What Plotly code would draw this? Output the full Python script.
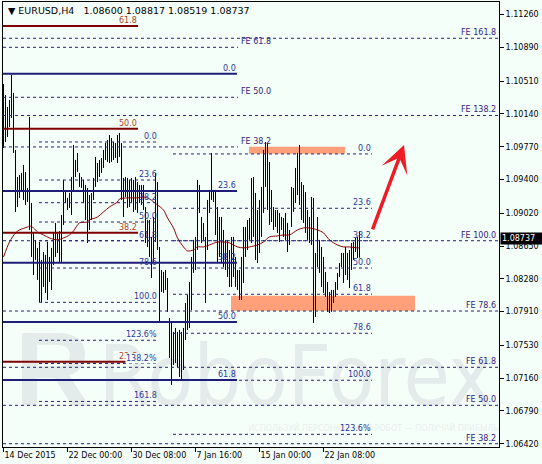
import plotly.graph_objects as go

# ---------------- data ----------------
highs = [
    1.10479, 1.10354, 1.10219, 1.10298, 1.10580, 1.10377, 1.09734, 1.09429, 1.09452, 1.09475,
    1.09565, 1.09486, 1.09305, 1.10106, 1.09136, 1.08798, 1.08719, 1.08629, 1.08696, 1.08493,
    1.08583, 1.08550, 1.08696, 1.08527, 1.08629, 1.08798, 1.08911, 1.08809, 1.08820, 1.09001,
    1.09396, 1.09283, 1.09193, 1.09249, 1.09429, 1.09790, 1.09621, 1.09700, 1.09475, 1.09429,
    1.09396, 1.09339, 1.09305, 1.09226, 1.09249, 1.09418, 1.09655, 1.09587, 1.09621, 1.09644,
    1.09734, 1.09813, 1.09847, 1.09903, 1.09869, 1.09824, 1.09813, 1.09903, 1.09926, 1.09813,
    1.09418, 1.09429, 1.09418, 1.09396, 1.09418, 1.09396, 1.09429, 1.09373, 1.09339, 1.09339,
    1.09339, 1.09091, 1.08944, 1.08944, 1.08753, 1.08978, 1.09475, 1.09373, 1.08640, 1.08380,
    1.08358, 1.08380, 1.08290, 1.07839, 1.07783, 1.07681, 1.07726, 1.07681, 1.07704, 1.07681,
    1.07726, 1.08008, 1.08098, 1.08245, 1.08527, 1.08719, 1.08753, 1.09396, 1.09339, 1.08978,
    1.08911, 1.08753, 1.09170, 1.09283, 1.09700, 1.09283, 1.09283, 1.09091, 1.08978, 1.08978,
    1.08832, 1.08719, 1.08719, 1.08606, 1.08753, 1.08753, 1.08527, 1.08380, 1.08380, 1.08527,
    1.08865, 1.08865, 1.08944, 1.08967, 1.09418, 1.09429, 1.09249, 1.09057, 1.09170, 1.09317,
    1.09734, 1.09824, 1.09813, 1.09599, 1.09283, 1.09091, 1.09057, 1.09057, 1.09023, 1.08978,
    1.08967, 1.09023, 1.08911, 1.08832, 1.09317, 1.09305, 1.09531, 1.09700, 1.09790, 1.09373,
    1.09339, 1.09260, 1.09057, 1.08978, 1.09204, 1.09193, 1.08572, 1.08978, 1.08719, 1.08640,
    1.08527, 1.08358, 1.08245, 1.08132, 1.08155, 1.08155, 1.08245, 1.08347, 1.08459, 1.08572,
    1.08572, 1.08640, 1.08572, 1.08606, 1.08685, 1.08696, 1.08741, 1.08753, 1.08817,
]
lows = [
    1.09757, 1.09824, 1.09881, 1.09993, 1.10095, 1.09700, 1.09035, 1.09091, 1.09193, 1.09260,
    1.09170, 1.09114, 1.09147, 1.08832, 1.08527, 1.08324, 1.08493, 1.08268, 1.08019, 1.08019,
    1.08189, 1.08121, 1.08042, 1.08245, 1.08155, 1.08437, 1.08527, 1.08572, 1.08471, 1.08471,
    1.08888, 1.09136, 1.09057, 1.09080, 1.09001, 1.09283, 1.09429, 1.09486, 1.09317, 1.09305,
    1.09136, 1.08944, 1.08685, 1.08832, 1.08944, 1.09170, 1.09317, 1.09373, 1.09429, 1.09475,
    1.09531, 1.09621, 1.09599, 1.09587, 1.09599, 1.09621, 1.09644, 1.09587, 1.09655, 1.09170,
    1.08978, 1.09204, 1.09080, 1.09091, 1.09147, 1.09035, 1.09057, 1.09023, 1.09136, 1.09114,
    1.09057, 1.08685, 1.08640, 1.08527, 1.08290, 1.08459, 1.08696, 1.08606, 1.07794, 1.08132,
    1.08121, 1.08155, 1.07907, 1.07388, 1.07083, 1.07309, 1.07331, 1.07286, 1.07173, 1.07140,
    1.07252, 1.07591, 1.07704, 1.07726, 1.07929, 1.08347, 1.08380, 1.08606, 1.09023, 1.08685,
    1.08719, 1.08008, 1.08606, 1.09023, 1.09170, 1.09147, 1.08775, 1.08459, 1.08527, 1.08459,
    1.08414, 1.08380, 1.08301, 1.08189, 1.08189, 1.08301, 1.08189, 1.08155, 1.08042, 1.08042,
    1.08234, 1.08527, 1.08606, 1.08719, 1.08685, 1.08753, 1.08493, 1.08459, 1.08572, 1.08753,
    1.09023, 1.09317, 1.09057, 1.08888, 1.08921, 1.08832, 1.08865, 1.08798, 1.08696, 1.08832,
    1.08753, 1.08719, 1.08583, 1.08662, 1.08865, 1.09035, 1.09136, 1.09226, 1.09114, 1.08944,
    1.08911, 1.08798, 1.08719, 1.08685, 1.08662, 1.07783, 1.07850, 1.08414, 1.08347, 1.08189,
    1.08121, 1.08076, 1.07907, 1.07895, 1.07907, 1.08008, 1.08076, 1.08155, 1.08301, 1.08414,
    1.08234, 1.08324, 1.08268, 1.08177, 1.08380, 1.08493, 1.08583, 1.08516, 1.08519,
]

ma_idx = [0, 3, 6, 8, 12, 13, 15, 17, 20, 23, 27, 30, 33, 35, 38, 42, 43, 47, 50, 53,
          57, 58, 62, 67, 70, 73, 77, 80, 82, 85, 87, 90, 92, 95, 97, 100, 103, 107, 110, 113,
          117, 120, 123, 127, 130, 133, 137, 140, 143, 147, 150, 153, 157, 160, 163, 167, 170, 173, 177, 178]
ma_val = [1.08527, 1.08696, 1.08798, 1.08832, 1.08865, 1.08876, 1.08854, 1.08809, 1.08775, 1.08741,
          1.08719, 1.08741, 1.08775, 1.08820, 1.08911, 1.08921, 1.08944, 1.08978, 1.09035, 1.09091,
          1.09147, 1.09181, 1.09193, 1.09193, 1.09204, 1.09181, 1.09114, 1.09057, 1.08967, 1.08854,
          1.08741, 1.08640, 1.08595, 1.08606, 1.08640, 1.08640, 1.08662, 1.08696, 1.08696, 1.08685,
          1.08640, 1.08629, 1.08640, 1.08662, 1.08696, 1.08753, 1.08764, 1.08775, 1.08775, 1.08832,
          1.08854, 1.08854, 1.08832, 1.08798, 1.08719, 1.08662, 1.08640, 1.08640, 1.08629, 1.08629]

date_idx = [0, 32, 64, 96, 128, 160]
date_text = ["14 Dec 2015", "22 Dec 00:00", "30 Dec 08:00", "7 Jan 16:00", "15 Jan 00:00", "22 Jan 08:00"]
price_ticks = [1.11260, 1.10890, 1.10510, 1.10140, 1.09770, 1.09400, 1.09020,
               1.08650, 1.08280, 1.07910, 1.07530, 1.07160, 1.06790, 1.06420]

# Fibonacci expansion (right, to chart edge)
fe_r_labels = ["FE 161.8", "FE 138.2", "FE 100.0", "FE 78.6", "FE 61.8", "FE 50.0", "FE 38.2"]
fe_r_prices = [1.10994, 1.10123, 1.08710, 1.07917, 1.07282, 1.06853, 1.06420]
fe_r_span = [-0.25, 247.75]
# Fibonacci expansion (left)
fe_l_labels = ["FE 61.8", "FE 50.0", "FE 38.2"]
fe_l_prices = [1.10892, 1.10328, 1.09768]
fe_l_span = [-0.25, 117.25]
# solid navy retracement
fs_labels = ["0.0", "23.6", "38.2", "50.0", "61.8"]
fs_prices = [1.10595, 1.09271, 1.08462, 1.07793, 1.07139]
fs_span = [-0.25, 116.75]
# solid dark red retracement
fr_labels = ["61.8", "50.0", "38.2", "23.6"]
fr_prices = [1.11133, 1.09974, 1.08801, 1.07345]
fr_span = [-0.25, 67.25]
# dashed retracement (middle)
fm_labels = ["0.0", "23.6", "38.2", "50.0", "61.8", "78.6", "100.0", "123.6%", "138.2%", "161.8"]
fm_prices = [1.09824, 1.09395, 1.09139, 1.08921, 1.08710, 1.08402, 1.08015, 1.07587, 1.07325, 1.06897]
fm_span = [17.75, 77.25]
# dashed retracement (right)
fd_labels = ["0.0", "23.6", "38.2", "50.0", "61.8", "78.6", "100.0", "123.6%"]
fd_prices = [1.09689, 1.09076, 1.08710, 1.08402, 1.08106, 1.07666, 1.07136, 1.06526]
fd_span = [84.75, 184.25]

# target zones
zone_x0 = [122.75, 113.75]
zone_x1 = [170.75, 205.75]
zone_y0 = [1.09690, 1.07921]
zone_y1 = [1.09770, 1.08090]

# forecast arrow (tail -> head)
arrow_tail = (184.25, 1.08820)
arrow_head = (200.25, 1.09790)

last_price = 1.08737
title_text = "▼ EURUSD,H4\u00a0\u00a0 1.08600 1.08817 1.08519 1.08737"

# ---------------- styling ----------------
FONT = "DejaVu Sans"
BG = "#F5FFFA"
NAVY = "#1E1E78"
DNAVY = "#22227A"
RED = "#800000"
FE_COL = "#33227F"
FIB_COL = "#27379C"
RED_TXT = "#B0431C"
WM = "#E3ECEA"

fig = go.Figure()

# watermark (beneath bars)
fig.add_trace(go.Scatter(x=[5.75], y=[1.07140], mode="text", text=["R"],
                         textposition="middle right",
                         textfont=dict(family="Liberation Sans", size=105, color=WM, weight="bold"),
                         hoverinfo="skip", showlegend=False))
fig.add_trace(go.Scatter(x=[47.5], y=[1.07094], mode="text", text=["RoboForex"],
                         textposition="middle right",
                         textfont=dict(family="Liberation Sans Narrow, DejaVu Sans Condensed", size=84, color=WM),
                         hoverinfo="skip", showlegend=False))
fig.add_trace(go.Scatter(x=[185.0], y=[1.06586], mode="text",
                         text=["ИСПОЛЬЗУЙ ПЕРСОНАЛЬНЫЙ РОБОТ — ПОЛУЧАЙ ПРИБЫЛЬ"],
                         textposition="middle center",
                         textfont=dict(family=FONT, size=8, color="#E8F0EE"),
                         hoverinfo="skip", showlegend=False))

# bars (high-low)
bx, by = [], []
for i, (h, l) in enumerate(zip(highs, lows)):
    bx += [i, i, None]
    by += [l, h, None]
fig.add_trace(go.Scatter(x=bx, y=by, mode="lines", line=dict(color="black", width=1),
                         hoverinfo="skip", showlegend=False))

# moving average
fig.add_trace(go.Scatter(x=ma_idx, y=ma_val, mode="lines",
                         line=dict(color="#8B0000", width=1, shape="spline", smoothing=0.8),
                         hoverinfo="skip", showlegend=False))

# zones
for x0, x1, y0, y1 in zip(zone_x0, zone_x1, zone_y0, zone_y1):
    fig.add_shape(type="rect", x0=x0, x1=x1, y0=y0, y1=y1, xref="x", yref="y",
                  fillcolor="#FFA07A", line=dict(width=0), layer="below")


def hlines(prices, span, color, width, dash=None):
    for p in prices:
        ln = dict(color=color, width=width)
        if dash:
            ln["dash"] = dash
        fig.add_shape(type="line", x0=span[0], x1=span[1], y0=p, y1=p,
                      xref="x", yref="y", line=ln, layer="above")


def labels(texts, prices, x, xanchor, color, special=None):
    for t, p in zip(texts, prices):
        kw = {}
        if special and t in special:
            kw["bgcolor"] = BG
        fig.add_annotation(x=x, y=p, xref="x", yref="y", text=t, showarrow=False,
                           xanchor=xanchor, yanchor="bottom", borderpad=0,
                           font=dict(family=FONT, size=8, color=color), **kw)


DASH = "3px,3px"
hlines(fe_r_prices, fe_r_span, DNAVY, 1, DASH)
hlines(fe_l_prices, fe_l_span, DNAVY, 1, DASH)
hlines(fm_prices, fm_span, DNAVY, 1, DASH)
hlines(fd_prices, fd_span, DNAVY, 1, DASH)
hlines(fs_prices, fs_span, NAVY, 2)
hlines(fr_prices, fr_span, RED, 2)

labels(fe_r_labels, fe_r_prices, 246.75, "right", FE_COL)
labels(fe_l_labels, fe_l_prices, 118.25, "left", FE_COL)
labels(fs_labels, fs_prices, 116.5, "right", FIB_COL)
labels(fr_labels, fr_prices, 67.0, "right", RED_TXT)
labels(fm_labels, fm_prices, 77.25, "right", FIB_COL, special=["138.2%"])
labels(fd_labels, fd_prices, 184.25, "right", FIB_COL)

# arrow
fig.add_annotation(x=arrow_head[0], y=arrow_head[1], ax=arrow_tail[0], ay=arrow_tail[1],
                   xref="x", yref="y", axref="x", ayref="y", text="", showarrow=True,
                   arrowhead=3, arrowsize=1.3, arrowwidth=3.5, arrowcolor="#EE1D25", standoff=0)

# current price tag
fig.add_annotation(x=1.0, y=last_price, xref="paper", yref="y", text=f"{last_price:.5f}",
                   showarrow=False, xanchor="left", yanchor="middle", bgcolor="black",
                   borderpad=1, width=40, align="left", xshift=1,
                   font=dict(family=FONT, size=8, color="white"))

# title
fig.add_annotation(x=0.006, y=0.982, xref="paper", yref="paper", text=title_text,
                   showarrow=False, xanchor="left", yanchor="middle",
                   font=dict(family=FONT, size=9.5, color="black"))

fig.update_layout(
    width=542, height=464,
    margin=dict(l=3, r=43, t=2, b=17),
    paper_bgcolor=BG, plot_bgcolor=BG,
    showlegend=False,
    hovermode=False,
    xaxis=dict(range=[-0.25, 247.75], tickvals=date_idx, ticktext=date_text,
               ticks="outside", ticklen=4, tickcolor="black", ticklabelposition="outside right",
               showline=True, mirror=True, linecolor="black", linewidth=1,
               showgrid=False, zeroline=False, automargin=False,
               tickfont=dict(family=FONT, size=8, color="black")),
    yaxis=dict(range=[1.06383, 1.11403], side="right", tickvals=price_ticks,
               ticktext=[f"{v:.5f}" for v in price_ticks],
               ticks="outside", ticklen=4, tickcolor="black",
               showline=True, mirror=True, linecolor="black", linewidth=1,
               showgrid=False, zeroline=False, automargin=False,
               tickfont=dict(family=FONT, size=8, color="black")),
)

fig.write_html("out.html",
               config={"displayModeBar": False, "staticPlot": True},
               post_script="document.body.style.margin='0';document.body.style.padding='0';"
                           "document.body.style.overflow='hidden';"
                           "document.body.style.background='" + BG + "';")
